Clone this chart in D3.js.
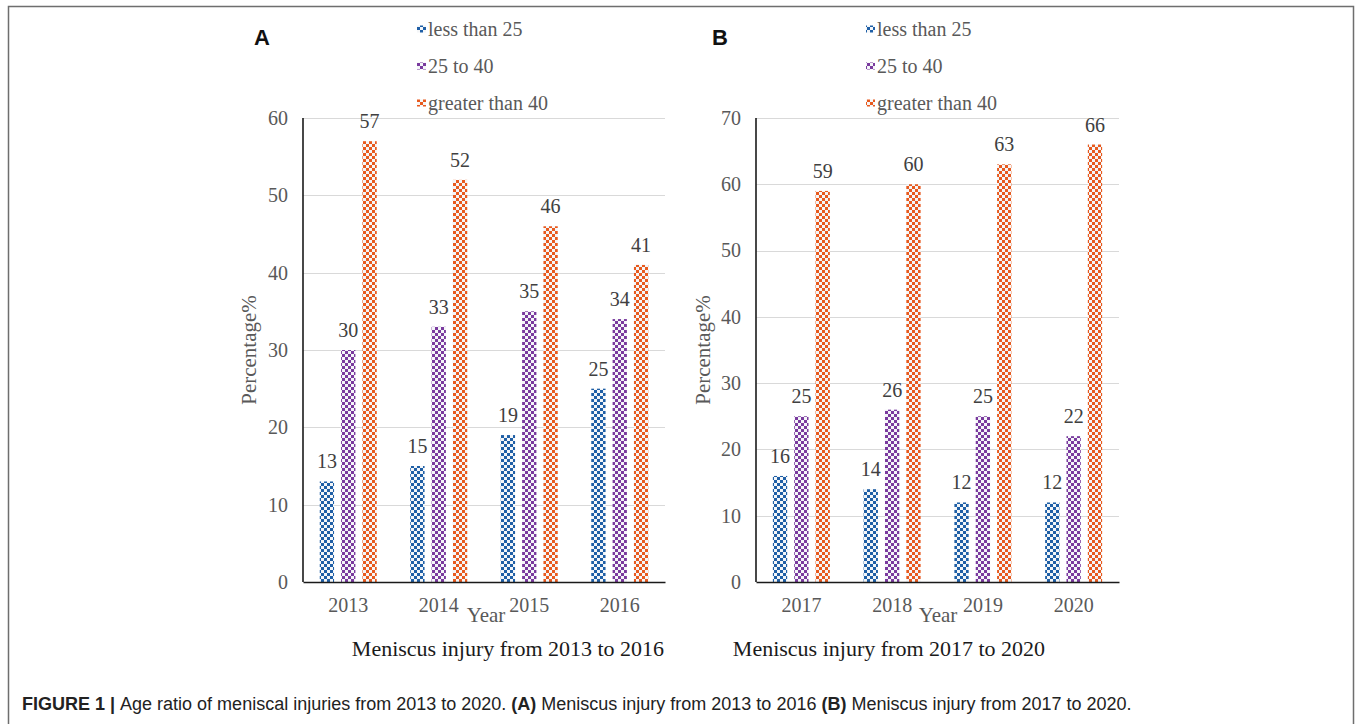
<!DOCTYPE html>
<html>
<head>
<meta charset="utf-8">
<script src="https://cdn.jsdelivr.net/npm/d3@7"></script>
<style>
  html, body { margin: 0; padding: 0; background: #fff; }
  svg { display: block; }
</style>
</head>
<body>
<svg id="fig" width="1356" height="724"></svg>
<script>
// Age groups and their fill colours
const groups = ["less than 25", "25 to 40", "greater than 40"];
const groupColors = ["#1f5fa6", "#7a3a9e", "#e85a1e"];

// Panel A: 2013–2016
const yearsA = ["2013", "2014", "2015", "2016"];
const lessA = [13, 15, 19, 25];
const midA = [30, 33, 35, 34];
const greaterA = [57, 52, 46, 41];
const ticksA = [0, 10, 20, 30, 40, 50, 60];

// Panel B: 2017–2020
const yearsB = ["2017", "2018", "2019", "2020"];
const lessB = [16, 14, 12, 12];
const midB = [25, 26, 25, 22];
const greaterB = [59, 60, 63, 66];
const ticksB = [0, 10, 20, 30, 40, 50, 60, 70];

const svg = d3.select("#fig");
const serif = "'Liberation Serif', 'Times New Roman', serif";
const sans = "'Liberation Sans', Arial, sans-serif";

// Checkerboard fills for the bars
const defs = svg.append("defs");
groupColors.forEach((c, i) => {
  const p = defs.append("pattern")
    .attr("id", "chk" + i)
    .attr("patternUnits", "userSpaceOnUse")
    .attr("width", 6).attr("height", 6);
  p.append("rect").attr("width", 6).attr("height", 6).attr("fill", "#f4f6f8");
  p.append("rect").attr("x", 0).attr("y", 0).attr("width", 3).attr("height", 3).attr("fill", c);
  p.append("rect").attr("x", 3).attr("y", 3).attr("width", 3).attr("height", 3).attr("fill", c);
});

// Outer frame (open at the bottom)
svg.append("path")
  .attr("d", "M8.5,724 V6.5 H1353.5 V724")
  .attr("fill", "none").attr("stroke", "#6e6e6e").attr("stroke-width", 1.5);

function panel(opt) {
  const { left, right, top, bottom, years, series, ticks, maxY, letter, letterX,
          legendX, legendMarker, subtitle, subtitleX, yearX, ytitleX } = opt;
  const g = svg.append("g");

  const x = d3.scaleBand().domain(years).range([left, right]).paddingInner(0).paddingOuter(0);
  const y = d3.scaleLinear().domain([0, maxY]).range([bottom, top]);
  const inner = d3.scaleBand().domain(groups).range([-28.5, 28.5]).paddingInner(0.33);

  // gridlines
  g.append("g").selectAll("line").data(ticks.filter(t => t > 0)).join("line")
    .attr("x1", left).attr("x2", right)
    .attr("y1", d => Math.round(y(d)) + 0.5).attr("y2", d => Math.round(y(d)) + 0.5)
    .attr("stroke", "#d9d9d9").attr("stroke-width", 1.2);

  // y axis labels
  const yAxis = d3.axisLeft(y).tickValues(ticks).tickSize(0).tickPadding(15);
  const ya = g.append("g").attr("transform", `translate(${left},0)`).call(yAxis);
  ya.select(".domain").remove();
  ya.selectAll("text").attr("font-family", serif).attr("font-size", 20).attr("fill", "#595959");

  // bars
  series.forEach((vals, si) => {
    g.append("g").selectAll("rect").data(years).join("rect")
      .attr("x", d => x(d) + x.bandwidth() / 2 + inner(groups[si]))
      .attr("y", (d, i) => y(vals[i]))
      .attr("width", inner.bandwidth())
      .attr("height", (d, i) => bottom - y(vals[i]))
      .attr("fill", `url(#chk${si})`);
    g.append("g").selectAll("text").data(years).join("text")
      .attr("x", d => x(d) + x.bandwidth() / 2 + inner(groups[si]) + inner.bandwidth() / 2)
      .attr("y", (d, i) => y(vals[i]) - 13)
      .attr("text-anchor", "middle")
      .attr("font-family", serif).attr("font-size", 20).attr("fill", "#404040")
      .text((d, i) => vals[i]);
  });

  // axis lines
  g.append("line").attr("x1", left).attr("x2", left).attr("y1", top).attr("y2", bottom)
    .attr("stroke", "#1a1a1a").attr("stroke-width", 1.6);
  const xAxis = d3.axisBottom(x).tickSize(0).tickPadding(16);
  const xa = g.append("g").attr("transform", `translate(0,${bottom})`).call(xAxis);
  xa.select(".domain").attr("stroke", "#1a1a1a").attr("stroke-width", 1.6);
  xa.selectAll("text").attr("font-family", serif).attr("font-size", 20).attr("fill", "#595959");

  // axis titles
  g.append("text").attr("x", yearX).attr("y", 622).attr("text-anchor", "middle")
    .attr("font-family", serif).attr("font-size", 21).attr("fill", "#595959").text("Year");
  g.append("text").attr("transform", `translate(${ytitleX},${(top + bottom) / 2}) rotate(-90)`)
    .attr("text-anchor", "middle")
    .attr("font-family", serif).attr("font-size", 21).attr("fill", "#595959").text("Percentage%");

  // subtitle
  g.append("text").attr("x", subtitleX).attr("y", 656).attr("text-anchor", "middle")
    .attr("font-family", serif).attr("font-size", 22).attr("fill", "#1a1a1a").text(subtitle);

  // panel letter
  g.append("text").attr("x", letterX).attr("y", 45).attr("text-anchor", "middle")
    .attr("font-family", sans).attr("font-weight", "bold").attr("font-size", 22)
    .attr("fill", "#111").text(letter);

  // legend
  const lg = g.append("g");
  groups.forEach((name, i) => {
    const cy = 29 + i * 37;
    lg.append("rect").attr("x", legendX).attr("y", cy - 3.5).attr("width", legendMarker).attr("height", 7)
      .attr("fill", `url(#chk${i})`);
    lg.append("text").attr("x", legendX + legendMarker + 2).attr("y", cy + 7)
      .attr("font-family", serif).attr("font-size", 20).attr("fill", "#595959").text(name);
  });
}

panel({
  left: 303, right: 665, top: 118, bottom: 582,
  years: yearsA, series: [lessA, midA, greaterA], ticks: ticksA, maxY: 60,
  letter: "A", letterX: 262, legendX: 417, legendMarker: 9,
  subtitle: "Meniscus injury from 2013 to 2016", subtitleX: 508, yearX: 486, ytitleX: 256
});

panel({
  left: 756, right: 1119, top: 118, bottom: 582,
  years: yearsB, series: [lessB, midB, greaterB], ticks: ticksB, maxY: 70,
  letter: "B", letterX: 720, legendX: 866, legendMarker: 9,
  subtitle: "Meniscus injury from 2017 to 2020", subtitleX: 889, yearX: 938, ytitleX: 710
});

// figure caption
const cap = svg.append("text").attr("x", 22).attr("y", 710)
  .attr("font-family", sans).attr("font-size", 18).attr("fill", "#222");
cap.append("tspan").attr("font-weight", "bold").text("FIGURE 1 | ");
cap.append("tspan").text("Age ratio of meniscal injuries from 2013 to 2020. ");
cap.append("tspan").attr("font-weight", "bold").text("(A)");
cap.append("tspan").text(" Meniscus injury from 2013 to 2016 ");
cap.append("tspan").attr("font-weight", "bold").text("(B)");
cap.append("tspan").text(" Meniscus injury from 2017 to 2020.");
</script>
</body>
</html>
